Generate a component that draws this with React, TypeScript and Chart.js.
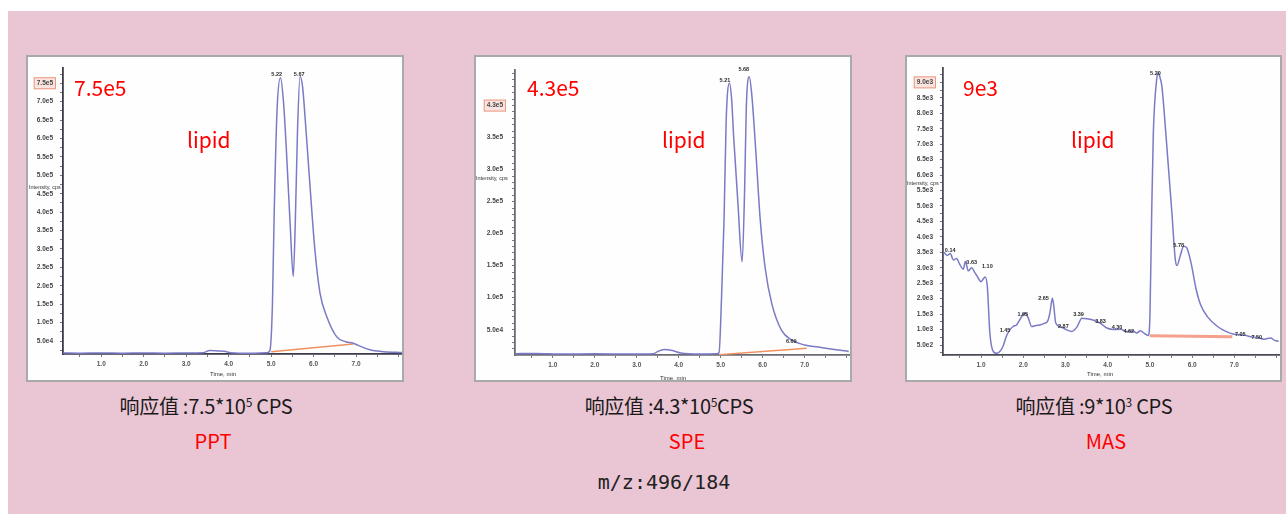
import { useEffect, useRef } from 'react';
import { Chart, registerables } from 'chart.js';

Chart.register(...registerables);
Chart.defaults.font.family = '"Liberation Sans", Arial, sans-serif';

// ---------------- data ----------------
// shared x axis (retention time, min)
const xTickValues = [1, 2, 3, 4, 5, 6, 7];
const xTickLabels = ['1.0', '2.0', '3.0', '4.0', '5.0', '6.0', '7.0'];

// PPT
const pptTimes = [0.1, 0.5, 1.0, 1.5, 2.0, 2.5, 3.0, 3.4, 3.55, 3.75, 3.9, 4.05, 4.5, 4.9, 4.97, 5.03, 5.07, 5.14, 5.22, 5.29, 5.36, 5.45, 5.52, 5.57, 5.62, 5.68, 5.74, 5.8, 5.91, 6.03, 6.15, 6.31, 6.54, 6.75, 6.93, 7.05, 7.32, 7.65, 8.08];
const pptIntensity = [17500, 17000, 17500, 17000, 17500, 17000, 17500, 18000, 24000, 23000, 22000, 18000, 16500, 18000, 24000, 150000, 390000, 680000, 765000, 700000, 565000, 360000, 225000, 380000, 620000, 768000, 740000, 655000, 478000, 297000, 180000, 116000, 62000, 48000, 44000, 38000, 26000, 21000, 18500];
const pptBaseTimes = [5.0, 6.93];
const pptBaseIntensity = [21000, 42000];
const pptYTicks = [50000, 100000, 150000, 200000, 250000, 300000, 350000, 400000, 450000, 500000, 550000, 600000, 650000, 700000, 750000];
const pptYTickLabels = ['5.0e4', '1.0e5', '1.5e5', '2.0e5', '2.5e5', '3.0e5', '3.5e5', '4.0e5', '4.5e5', '5.0e5', '5.5e5', '6.0e5', '6.5e5', '7.0e5', '7.5e5'];
const pptPeakTimes = [5.13, 5.66];
const pptPeakIntensity = [775000, 775000];
const pptPeakLabels = ['5.22', '5.67'];

// SPE
const speTimes = [0.1, 0.6, 1.2, 2.0, 2.8, 3.4, 3.5, 3.65, 3.85, 4.05, 4.5, 4.9, 4.96, 5.02, 5.08, 5.13, 5.21, 5.26, 5.31, 5.41, 5.51, 5.57, 5.61, 5.68, 5.74, 5.84, 5.94, 6.06, 6.22, 6.45, 6.69, 7.0, 7.32, 7.71, 8.05];
const speIntensity = [12500, 13000, 12000, 12500, 12000, 12500, 16000, 19000, 17500, 13500, 12000, 12500, 14000, 100000, 223000, 376000, 435000, 410000, 350000, 248000, 156000, 269000, 397000, 445000, 417000, 325000, 223000, 146000, 90000, 49000, 34000, 26000, 23000, 19000, 16000];
const speBaseTimes = [4.96, 7.05];
const speBaseIntensity = [11000, 21000];
const speYTicks = [50000, 100000, 150000, 200000, 250000, 300000, 350000, 400000];
const speYTickLabels = ['5.0e4', '1.0e5', '1.5e5', '2.0e5', '2.5e5', '3.0e5', '3.5e5', '4.3e5'];
const spePeakTimes = [5.1, 5.55, 6.68];
const spePeakIntensity = [439000, 456000, 31000];
const spePeakLabels = ['5.21', '5.68', '6.69'];

// MAS
const masTimes = [0.12, 0.2, 0.27, 0.35, 0.42, 0.5, 0.58, 0.63, 0.7, 0.78, 0.85, 0.92, 1.0, 1.06, 1.1, 1.15, 1.21, 1.29, 1.37, 1.45, 1.52, 1.6, 1.68, 1.76, 1.84, 1.92, 2.0, 2.05, 2.12, 2.2, 2.3, 2.4, 2.5, 2.58, 2.63, 2.69, 2.72, 2.77, 2.87, 2.95, 3.03, 3.15, 3.27, 3.39, 3.51, 3.67, 3.83, 3.98, 4.14, 4.3, 4.45, 4.6, 4.69, 4.77, 4.88, 4.96, 5.0, 5.04, 5.08, 5.16, 5.2, 5.24, 5.28, 5.34, 5.4, 5.52, 5.6, 5.64, 5.72, 5.8, 5.87, 5.97, 6.09, 6.2, 6.36, 6.6, 6.8, 6.99, 7.23, 7.39, 7.55, 7.7, 7.86, 7.95, 8.05];
const masIntensity = [3500, 3400, 3460, 3250, 3300, 3100, 2950, 3200, 2900, 3000, 2850, 2700, 2550, 2650, 2700, 2380, 880, 290, 230, 300, 450, 780, 980, 1100, 1150, 1320, 1500, 1530, 1370, 1100, 1130, 1150, 1200, 1280, 1530, 2010, 1800, 1210, 1100, 1050, 990, 940, 1080, 1370, 1350, 1300, 1200, 1050, 1000, 1010, 940, 950, 890, 960, 865, 810, 1430, 4640, 7330, 9100, 9300, 9150, 8900, 8000, 6930, 4780, 3280, 3070, 3400, 3700, 3650, 3180, 2330, 1800, 1420, 1100, 940, 850, 820, 770, 740, 690, 730, 650, 620];
const masBaseTimes = [5.0, 6.95];
const masBaseIntensity = [800, 770];
const masYTicks = [500, 1000, 1500, 2000, 2500, 3000, 3500, 4000, 4500, 5000, 5500, 6000, 6500, 7000, 7500, 8000, 8500, 9000];
const masYTickLabels = ['5.0e2', '1.0e3', '1.5e3', '2.0e3', '2.5e3', '3.0e3', '3.5e3', '4.0e3', '4.5e3', '5.0e3', '5.5e3', '6.0e3', '6.5e3', '7.0e3', '7.5e3', '8.0e3', '8.5e3', '9.0e3'];
const masPeakTimes = [0.27, 0.78, 1.15, 1.57, 1.99, 2.48, 2.95, 3.31, 3.83, 4.22, 4.5, 5.13, 5.68, 7.14, 7.53];
const masPeakIntensity = [3565, 3187, 3049, 985, 1500, 2000, 1100, 1490, 1275, 1060, 950, 9300, 3710, 845, 740];
const masPeakLabels = ['0.14', '0.63', '1.10', '1.45', '1.95', '2.65', '2.87', '3.39', '3.83', '4.30', '4.62', '5.20', '5.78', '7.05', '7.50'];

// ---------------- styles / layout ----------------
const PINK = '#eac6d4';
const LINE = 'rgb(122,122,198)';
const TICK_SIZE = 6.5;
const TICK_FONT = `bold ${TICK_SIZE}px "Liberation Sans", Arial, sans-serif`;
const SMALL_FONT = '5.5px "Liberation Sans", Arial, sans-serif';

type PanelDef = {
  key: string;
  left: number; top: number; w: number; h: number;
  yAxisW: number; padTop: number; xAxisH: number; yPad: number;
  yMin: number; yMax: number; yMinorStep: number;
  times: number[]; values: number[];
  baseTimes: number[]; baseValues: number[]; baseColor: string; baseWidth: number;
  yTicks: number[]; yTickLabels: string[];
  peakTimes: number[]; peakValues: number[]; peakLabels: string[];
  yTitle: [number, number]; xTitle: [number, number];
  axisColor: string;
};

const panels: PanelDef[] = [
  {
    key: 'ppt', left: 26, top: 55, w: 378, h: 327,
    yAxisW: 35, padTop: 11, xAxisH: 26, yPad: 7,
    yMin: 14700, yMax: 791400, yMinorStep: 25000,
    times: pptTimes, values: pptIntensity,
    baseTimes: pptBaseTimes, baseValues: pptBaseIntensity, baseColor: '#f09060', baseWidth: 1.5,
    yTicks: pptYTicks, yTickLabels: pptYTickLabels,
    peakTimes: pptPeakTimes, peakValues: pptPeakIntensity, peakLabels: pptPeakLabels,
    yTitle: [1, 130], xTitle: [195, 317], axisColor: '#3a3a4a',
  },
  {
    key: 'spe', left: 474, top: 55, w: 378, h: 327,
    yAxisW: 39, padTop: 8, xAxisH: 25, yPad: 9,
    yMin: 10500, yMax: 455700, yMinorStep: 10000,
    times: speTimes, values: speIntensity,
    baseTimes: speBaseTimes, baseValues: speBaseIntensity, baseColor: '#f09060', baseWidth: 1.5,
    yTicks: speYTicks, yTickLabels: speYTickLabels,
    peakTimes: spePeakTimes, peakValues: spePeakIntensity, peakLabels: spePeakLabels,
    yTitle: [0, 121], xTitle: [197, 321], axisColor: '#6a6a72',
  },
  {
    key: 'mas', left: 905, top: 55, w: 377, h: 327,
    yAxisW: 36, padTop: 10, xAxisH: 25, yPad: 7,
    yMin: 177, yMax: 9468, yMinorStep: 250,
    times: masTimes, values: masIntensity,
    baseTimes: masBaseTimes, baseValues: masBaseIntensity, baseColor: '#f4a08c', baseWidth: 3,
    yTicks: masYTicks, yTickLabels: masYTickLabels,
    peakTimes: masPeakTimes, peakValues: masPeakIntensity, peakLabels: masPeakLabels,
    yTitle: [0, 126], xTitle: [193, 317], axisColor: '#4a4a55',
  },
];

function decorPlugin(p: PanelDef) {
  const topIdx = p.yTicks.length - 1;
  const boxRect = (chart: any) => {
    const ctx = chart.ctx;
    const py = chart.scales.y.getPixelForValue(p.yTicks[topIdx]);
    ctx.save();
    ctx.font = TICK_FONT;
    const w = ctx.measureText(p.yTickLabels[topIdx]).width;
    ctx.restore();
    const xr = chart.chartArea.left - 3 - p.yPad;
    return { x: xr - w - 3, y: py - 6, w: w + 6, h: 12 };
  };
  return {
    id: 'decor-' + p.key,
    beforeDraw(chart: any) {
      const r = boxRect(chart);
      const ctx = chart.ctx;
      ctx.save();
      ctx.fillStyle = '#fbe4df';
      ctx.fillRect(r.x, r.y, r.w, r.h);
      ctx.restore();
    },
    afterDraw(chart: any) {
      const ctx = chart.ctx;
      const r = boxRect(chart);
      ctx.save();
      ctx.strokeStyle = '#ea9a80';
      ctx.lineWidth = 1;
      ctx.strokeRect(r.x + 0.5, r.y + 0.5, r.w - 1, r.h - 1);
      ctx.fillStyle = '#333';
      ctx.font = SMALL_FONT;
      ctx.textBaseline = 'middle';
      ctx.textAlign = 'left';
      ctx.fillText('Intensity, cps', p.yTitle[0], p.yTitle[1]);
      ctx.textAlign = 'center';
      ctx.font = '6px "Liberation Sans", Arial, sans-serif';
      ctx.fillText('Time, min', p.xTitle[0], p.xTitle[1]);
      const xs = chart.scales.x;
      const ys = chart.scales.y;
      ctx.font = 'bold 5.5px "Liberation Sans", Arial, sans-serif';
      ctx.fillStyle = '#2a2a2a';
      p.peakLabels.forEach((lab, i) => {
        ctx.fillText(lab, xs.getPixelForValue(p.peakTimes[i]), ys.getPixelForValue(p.peakValues[i]));
      });
      ctx.restore();
    },
  };
}

function Panel({ p }: { p: PanelDef }) {
  const ref = useRef<HTMLCanvasElement | null>(null);
  useEffect(() => {
    if (!ref.current) return;
    const xMinor: number[] = [];
    for (let v = 0.5; v <= 8.0001; v += 0.5) xMinor.push(Math.round(v * 10) / 10);
    const yAll: number[] = [];
    for (let v = p.yMinorStep; v <= p.yMax; v += p.yMinorStep) {
      if (v >= p.yMin) yAll.push(v);
    }
    const chart = new Chart(ref.current, {
      type: 'line',
      data: {
        datasets: [
          {
            data: p.times.map((t, i) => ({ x: t, y: p.values[i] })),
            borderColor: LINE,
            borderWidth: 1.5,
            pointRadius: 0,
            fill: false,
            cubicInterpolationMode: 'monotone',
          },
          {
            data: p.baseTimes.map((t, i) => ({ x: t, y: p.baseValues[i] })),
            borderColor: p.baseColor,
            borderWidth: p.baseWidth,
            pointRadius: 0,
            fill: false,
          },
        ],
      },
      options: {
        responsive: false,
        animation: false,
        events: [],
        layout: { padding: { top: p.padTop, left: 0, right: 0, bottom: 0 } },
        plugins: { legend: { display: false }, tooltip: { enabled: false }, title: { display: false } },
        scales: {
          x: {
            type: 'linear',
            min: 0.1,
            max: 8.08,
            afterBuildTicks: (s: any) => { s.ticks = xMinor.map((v) => ({ value: v })); },
            afterFit: (s: any) => { s.height = p.xAxisH; },
            ticks: {
              autoSkip: false,
              maxRotation: 0,
              padding: 3,
              color: '#555',
              font: { size: TICK_SIZE, weight: 'bold' },
              callback: (v: any) => {
                const i = xTickValues.indexOf(Number(v));
                return i >= 0 ? xTickLabels[i] : '';
              },
            },
            grid: { drawOnChartArea: false, drawTicks: true, tickLength: 3, color: '#777' },
            border: { display: true, color: p.axisColor, width: 1.8 },
          },
          y: {
            type: 'linear',
            min: p.yMin,
            max: p.yMax,
            afterBuildTicks: (s: any) => { s.ticks = yAll.map((v) => ({ value: v })); },
            afterFit: (s: any) => { s.width = p.yAxisW; },
            ticks: {
              autoSkip: false,
              padding: p.yPad,
              color: '#444',
              font: { size: TICK_SIZE, weight: 'bold' },
              callback: (v: any) => {
                const i = p.yTicks.indexOf(Number(v));
                return i >= 0 ? p.yTickLabels[i] : '';
              },
            },
            grid: { drawOnChartArea: false, drawTicks: true, tickLength: 3, color: '#777' },
            border: { display: true, color: p.axisColor, width: 1.8 },
          },
        },
      },
      plugins: [decorPlugin(p)],
    } as any);
    return () => chart.destroy();
  }, [p]);
  return (
    <div
      style={{
        position: 'absolute', left: p.left, top: p.top, width: p.w, height: p.h,
        border: '2px solid #a9a9a9', boxSizing: 'border-box', background: '#fefefe',
      }}
    >
      <canvas ref={ref} width={p.w - 4} height={p.h - 4} style={{ display: 'block' }} />
    </div>
  );
}

const CJK = '"Noto Sans CJK SC", "Noto Sans", sans-serif';

type TextDef = { text: string; x: number; base: number; size: number; color: string; center?: boolean; font?: string; asc?: number };

const redNotes: TextDef[] = [
  { text: '7.5e5', x: 74, base: 97, size: 21, color: '#ff0000' },
  { text: 'lipid', x: 187, base: 148.5, size: 21, color: '#ff0000' },
  { text: '4.3e5', x: 527, base: 97, size: 21, color: '#ff0000' },
  { text: 'lipid', x: 662, base: 148.5, size: 21, color: '#ff0000' },
  { text: '9e3', x: 963, base: 97, size: 21, color: '#ff0000' },
  { text: 'lipid', x: 1071, base: 148.5, size: 21, color: '#ff0000' },
  { text: 'PPT', x: 213, base: 450, size: 20, color: '#ff0000', center: true },
  { text: 'SPE', x: 687, base: 450, size: 20, color: '#ff0000', center: true },
  { text: 'MAS', x: 1106, base: 450, size: 20, color: '#ff0000', center: true },
];

const responseLabels = [
  { pre: '响应值 :7.5*10', sup: '5', post: ' CPS', x: 206 },
  { pre: '响应值 :4.3*10', sup: '5', post: 'CPS', x: 669 },
  { pre: '响应值 :9*10', sup: '3', post: ' CPS', x: 1094 },
];

function Txt({ t }: { t: TextDef }) {
  const asc = t.asc ?? 0.936;
  return (
    <div
      style={{
        position: 'absolute', left: t.x, top: t.base - asc * t.size,
        transform: t.center ? 'translateX(-50%)' : undefined,
        fontFamily: t.font ?? CJK, fontSize: t.size, lineHeight: 1, color: t.color, whiteSpace: 'nowrap',
      }}
    >
      {t.text}
    </div>
  );
}

export default function App() {
  return (
    <div style={{ position: 'fixed', left: 0, top: 0, width: 1286, height: 514, overflow: 'hidden' }}>
      <div style={{ position: 'absolute', left: 8, top: 11, width: 1278, height: 503, background: PINK }} />
      {panels.map((p) => (
        <Panel key={p.key} p={p} />
      ))}
      {redNotes.map((t, i) => (
        <Txt key={i} t={t} />
      ))}
      {responseLabels.map((r, i) => (
        <div
          key={'r' + i}
          style={{
            position: 'absolute', left: r.x, top: 415 - 0.936 * 20, transform: 'translateX(-50%)',
            fontFamily: CJK, fontSize: 20, lineHeight: 1, color: '#1a1a1a', whiteSpace: 'nowrap',
            letterSpacing: -0.3,
          }}
        >
          {r.pre}
          <span style={{ fontSize: 12, position: 'relative', top: -7 }}>{r.sup}</span>
          {r.post}
        </div>
      ))}
      <Txt t={{ text: 'm/z:496/184', x: 664, base: 489, size: 20, color: '#222', center: true, font: '"DejaVu Sans Mono", monospace', asc: 0.846 }} />
    </div>
  );
}
